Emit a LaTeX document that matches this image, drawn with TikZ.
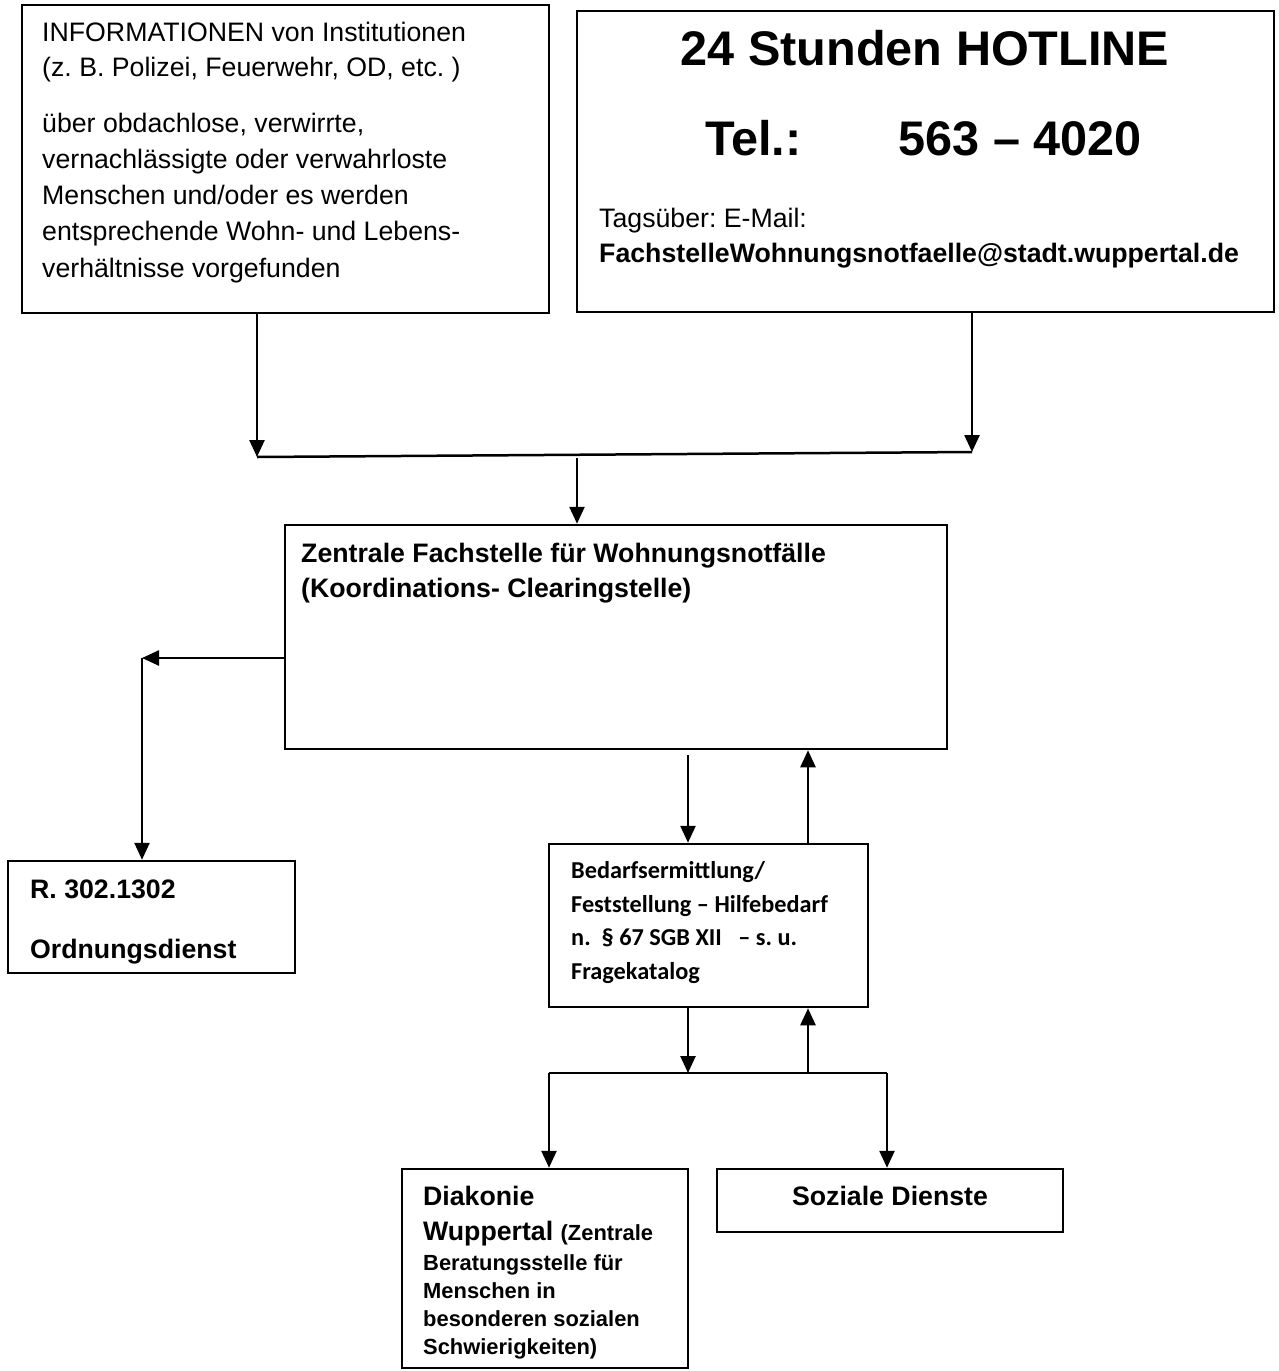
\documentclass[tikz,border=0pt]{standalone}
\usepackage{fontspec}
\setmainfont{Liberation Sans}
\newfontfamily\calibfont{Carlito}
\usetikzlibrary{arrows.meta}
\newcommand\sizebody{\fontsize{26.7}{32}\selectfont}
\newcommand\sizehead{\fontsize{48.6}{58}\selectfont}
\newcommand\sizecal{\fontsize{24.3}{29}\selectfont}
\newcommand\sizesmall{\fontsize{21.9}{26}\selectfont}
\begin{document}
\frenchspacing
\begin{tikzpicture}[x=1pt,y=-1pt,
  box/.style={draw, line width=2.5pt, inner sep=0pt, rectangle},
  ln/.style={anchor=base west, inner sep=0pt, font=\sizebody},
  lnb/.style={anchor=base west, inner sep=0pt, font=\sizebody\bfseries},
  lnc/.style={anchor=base west, inner sep=0pt, font=\sizecal\calibfont\bfseries},
  lns/.style={anchor=base west, inner sep=0pt, font=\sizesmall\bfseries},
  conn/.style={line width=2.5pt},
  arr/.style={line width=2.5pt, -{Triangle[width=15pt,length=17pt]}},
]
\useasboundingbox (0,0) rectangle (1278,1371);

% boxes
\node[box, minimum width=527pt, minimum height=308pt] (info) at (285.5,159) {};
\node[box, minimum width=697pt, minimum height=301pt] (hot) at (925.5,161.5) {};
\node[box, minimum width=662pt, minimum height=224pt] (zen) at (616,637) {};
\node[box, minimum width=319pt, minimum height=163pt] (bed) at (708.5,925.5) {};
\node[box, minimum width=287pt, minimum height=112pt] (ord) at (151.5,917) {};
\node[box, minimum width=286pt, minimum height=199pt] (dia) at (545,1268.5) {};
\node[box, minimum width=346pt, minimum height=63pt] (soz) at (890,1200.5) {};

% texts: info
\node[ln] (a1) at (42,41) {INFORMATIONEN von Institutionen};
\node[ln] (a2) at (42,76) {(z. B. Polizei, Feuerwehr, OD, etc. )};
\node[ln] (a3) at (42,132) {über obdachlose, verwirrte,};
\node[ln] (a4) at (42,168) {vernachlässigte oder verwahrloste};
\node[ln] (a5) at (42,204) {Menschen und/oder es werden};
\node[ln] (a6) at (42,240) {entsprechende Wohn- und Lebens-};
\node[ln] (a7) at (42,277) {verhältnisse vorgefunden};

% texts: hotline
\node[anchor=base, inner sep=0pt, font=\sizehead\bfseries] (h1) at (925,65) {24 Stunden HOTLINE};
\node[anchor=base, inner sep=0pt, font=\sizehead\bfseries] (h2) at (923.5,155) {Tel.:\hspace{97pt}563 – 4020};
\node[ln] (h3) at (599,227) {Tagsüber: E-Mail:};
\node[lnb] (h4) at (599,262) {FachstelleWohnungsnotfaelle@stadt.wuppertal.de};

% texts: Zentrale
\node[lnb] (z1) at (301,562) {Zentrale Fachstelle für Wohnungsnotfälle};
\node[lnb] (z2) at (301,597) {(Koordinations- Clearingstelle)};

% texts: Bedarf
\node[lnc] (b1t) at (571,878) {Bedarfsermittlung/};
\node[lnc] (b2t) at (571,912) {Feststellung – Hilfebedarf};
\node[lnc] (b3t) at (571,945) {n.\ \ § 67 SGB XII\ \ \ – s. u.};
\node[lnc] (b4t) at (571,979) {Fragekatalog};

% texts: Ordnungsdienst
\node[lnb] (o1) at (30,898) {R. 302.1302};
\node[lnb] (o2) at (30,958) {Ordnungsdienst};

% texts: Diakonie
\node[lnb] (d1) at (423,1205) {Diakonie};
\node[lnb] (d2) at (423,1240) {Wuppertal {\sizesmall(Zentrale}};
\node[lns] (d3) at (423,1270) {Beratungsstelle für};
\node[lns] (d4) at (423,1298) {Menschen in};
\node[lns] (d5) at (423,1326) {besonderen sozialen};
\node[lns] (d6) at (423,1354) {Schwierigkeiten)};

% texts: Soziale Dienste
\node[anchor=base, inner sep=0pt, font=\sizebody\bfseries] (s1) at (890,1205) {Soziale Dienste};

% connectors top
\coordinate (j1) at (257,457);
\coordinate (j2) at (972,452);
\coordinate (j3) at (577,458);
\draw[arr] (info.south -| j1) -- (j1);
\draw[arr] (hot.south -| j2) -- (j2);
\draw[conn] (j1) -- (j2);
\draw[arr] (j3) -- (zen.north -| j3);

% to Ordnungsdienst
\coordinate (l1) at (142,658);
\draw[arr] (zen.west |- l1) -- (l1);
\draw[arr] (l1) -- (ord.north -| l1);

% Zentrale <-> Bedarf
\coordinate (m1) at (688,755);
\coordinate (m2) at (808,800);
\draw[arr] (m1) -- (bed.north -| m1);
\draw[arr] (bed.north -| m2) -- (zen.south -| m2);

% Bedarf <-> bottom
\coordinate (k1) at (688,1073);
\coordinate (k2) at (808,1073);
\coordinate (kl) at (549,1073);
\coordinate (kr) at (887,1073);
\draw[arr] (bed.south -| k1) -- (k1);
\draw[arr] (k2) -- (bed.south -| k2);
\draw[conn] (kl) -- (kr);
\draw[arr] (kl) -- (dia.north -| kl);
\draw[arr] (kr) -- (soz.north -| kr);
\end{tikzpicture}
\end{document}
